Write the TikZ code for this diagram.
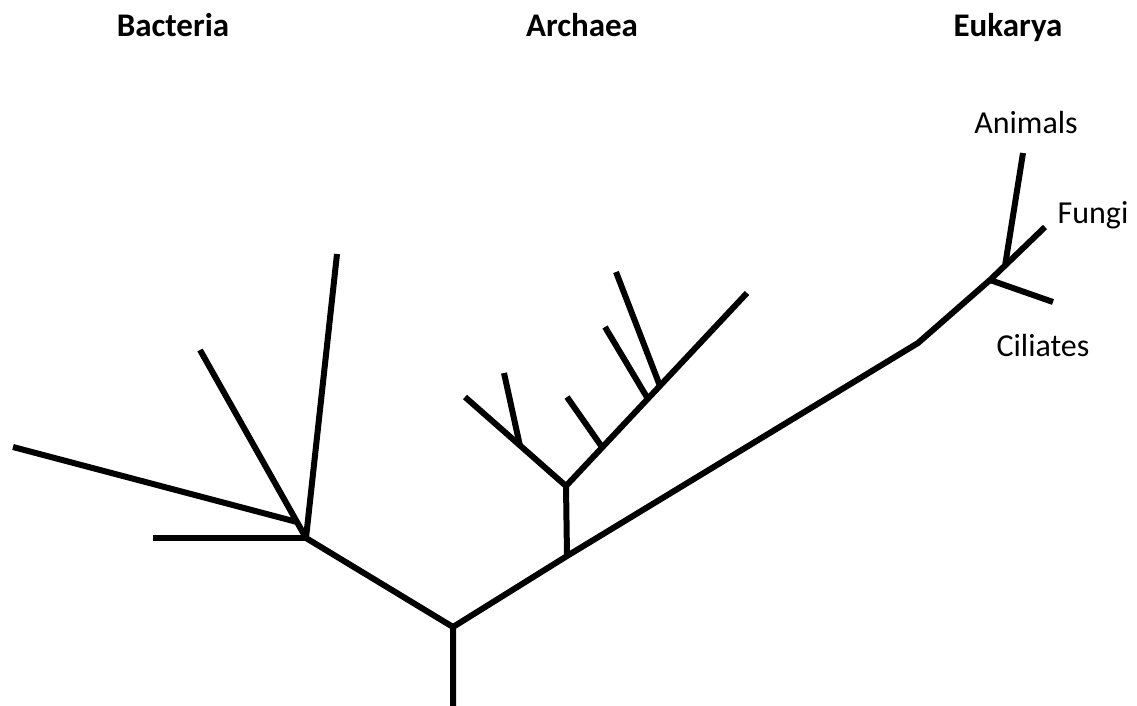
\documentclass[tikz,border=0pt]{standalone}
\usepackage{fontspec}
\setmainfont{Carlito}
\begin{document}
\begin{tikzpicture}[x=1pt,y=-1pt,
  branch/.style={line width=6pt, line join=miter, line cap=butt},
  domainlabel/.style={font=\fontsize{33}{36}\selectfont\bfseries, anchor=base, inner sep=0pt},
  taxonlabel/.style={font=\fontsize{32}{35}\selectfont, anchor=base, inner sep=0pt}]
\useasboundingbox (0,0) rectangle (1137,706);
% coordinates
\coordinate (rootEnd) at (453,706);
\coordinate (root) at (453,627);
\coordinate (bHub) at (306,538);
\coordinate (b1) at (153,538);
\coordinate (b2) at (13,447);
\coordinate (b2j) at (297,522);
\coordinate (b3) at (200,350);
\coordinate (b4) at (337,254);
\coordinate (aBase) at (567,556);
\coordinate (aHub) at (566,486);
\coordinate (aL) at (465,397);
\coordinate (aLj) at (520,446);
\coordinate (aL1) at (504,373);
\coordinate (aR) at (747,293);
\coordinate (aRj1) at (602,447);
\coordinate (aR1) at (567,397);
\coordinate (aRj2) at (648,399);
\coordinate (aR2) at (605,327);
\coordinate (aRj3) at (660,386);
\coordinate (aR3) at (616,272);
\coordinate (eBend) at (918,343);
\coordinate (eHub) at (990,280);
\coordinate (eF) at (1045,227);
\coordinate (eC) at (1053,302);
\coordinate (eAj) at (1005,266);
\coordinate (eA) at (1023,153);
% labels
\node[domainlabel] (lBac) at (173,37) {Bacteria};
\node[domainlabel] (lArc) at (582,37) {Archaea};
\node[domainlabel] (lEuk) at (1008,37) {Eukarya};
\node[taxonlabel] (lAni) at (1026,134) {Animals};
\node[taxonlabel] (lFun) at (1093,223) {Fungi};
\node[taxonlabel] (lCil) at (1043,356) {Ciliates};
% tree
\draw[branch] (rootEnd) -- (root) -- (bHub);
\draw[branch] (root) -- (aBase) -- (eBend) -- (eHub) -- (eF);
\draw[branch] (bHub) -- (b1);
\draw[branch] (bHub) -- (b3);
\draw[branch] (bHub) -- (b4);
\draw[branch] (b2j) -- (b2);
\draw[branch] (aBase) -- (aHub);
\draw[branch] (aL) -- (aHub) -- (aR);
\draw[branch] (aLj) -- (aL1);
\draw[branch] (aRj1) -- (aR1);
\draw[branch] (aRj2) -- (aR2);
\draw[branch] (aRj3) -- (aR3);
\draw[branch] (eHub) -- (eC);
\draw[branch] (eAj) -- (eA);
\end{tikzpicture}
\end{document}
